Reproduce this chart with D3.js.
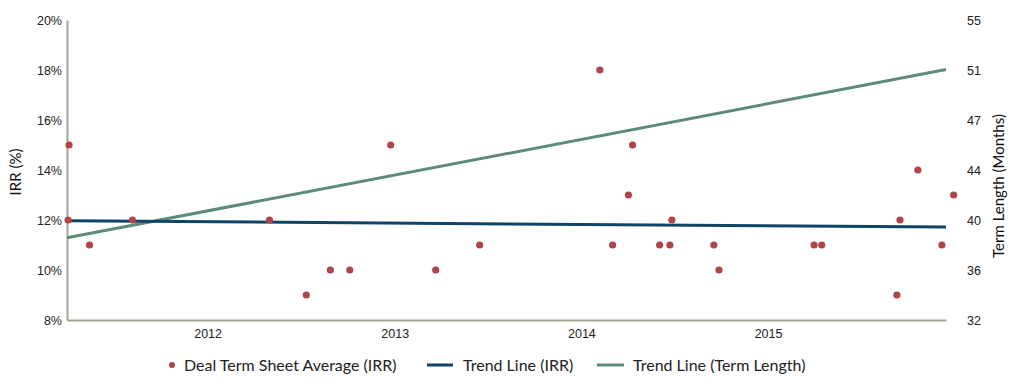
<!DOCTYPE html>
<html>
<head>
<meta charset="utf-8">
<script src="https://cdn.jsdelivr.net/npm/d3@7"></script>
<style>
  body { margin: 0; background: #fff; }
  svg { display: block; font-family: Lato, "Open Sans", sans-serif; }
  .tick-label { font-size: 12.5px; fill: #222; }
  .axis-title { font-size: 15px; fill: #111; }
  .legend-label { font-size: 16px; fill: #222; }
</style>
</head>
<body>
<svg width="1024" height="384"></svg>
<script>
// deal dates and IRR values (%)
const dealDates = [
    "2011-04-05", "2011-04-03", "2011-05-15", "2011-08-07", "2012-05-01", "2012-07-12",
    "2012-08-28", "2012-10-05", "2012-12-24", "2013-03-22", "2013-06-16", "2014-02-06",
    "2014-03-03", "2014-04-03", "2014-04-11", "2014-06-03", "2014-06-23", "2014-06-27",
    "2014-09-17", "2014-09-27", "2015-04-01", "2015-04-16", "2015-09-10", "2015-09-16",
    "2015-10-21", "2015-12-07", "2015-12-30"
];
const dealIrr = [15, 12, 11, 12, 12, 9, 10, 10, 15, 10, 11, 18, 11, 13, 15, 11, 11, 12, 11, 10, 11, 11, 9, 12, 14, 11, 13];

const trendDates = ["2011-04-01", "2015-12-15"];
const trendIrr = [11.97, 11.72];
const trendTermLength = [38.3, 51.2];

const irrTicks = [8, 10, 12, 14, 16, 18, 20];
const yearTicks = ["2012", "2013", "2014", "2015"];

const legendItems = ["Deal Term Sheet Average (IRR)", "Trend Line (IRR)", "Trend Line (Term Length)"];

const dotColor = "#b04448";
const irrLineColor = "#0f4468";
const termLineColor = "#5e8b78";
const axisColor = "#a6a696";

const parseDate = d3.timeParse("%Y-%m-%d");

const svg = d3.select("svg");
const margin = {left: 67, right: 78, top: 20, bottom: 64};
const width = 1024 - margin.left - margin.right;
const height = 384 - margin.top - margin.bottom;

const x = d3.scaleTime()
    .domain([parseDate("2011-04-01"), parseDate("2015-12-15")])
    .range([margin.left, margin.left + width]);

const yIrr = d3.scaleLinear().domain([8, 20]).range([margin.top + height, margin.top]);
const yTerm = d3.scaleLinear().domain([32, 55]).range([margin.top + height, margin.top]);

// left axis
const leftAxis = svg.append("g")
    .attr("transform", `translate(${margin.left},0)`)
    .call(d3.axisLeft(yIrr).tickValues(irrTicks).tickSize(0).tickPadding(5).tickFormat(d => d + "%"));
leftAxis.select(".domain").attr("stroke", axisColor).attr("stroke-width", 2);
leftAxis.selectAll("text").attr("class", "tick-label").attr("font-family", null).attr("font-size", null);

// right axis - 7 evenly spaced ticks, rounded labels
const termTicks = d3.range(7).map(i => 32 + i * (55 - 32) / 6);
const rightAxis = svg.append("g")
    .attr("transform", `translate(${margin.left + width},0)`)
    .call(d3.axisRight(yTerm).tickValues(termTicks).tickSize(0).tickPadding(21).tickFormat(d => Math.round(d)));
rightAxis.select(".domain").remove();
rightAxis.selectAll("text").attr("class", "tick-label").attr("font-family", null).attr("font-size", null);

// bottom axis
const bottomAxis = svg.append("g")
    .attr("transform", `translate(0,${margin.top + height})`)
    .call(d3.axisBottom(x).tickValues(yearTicks.map(y => parseDate(y + "-01-01"))).tickSize(0).tickPadding(9).tickFormat(d3.timeFormat("%Y")));
bottomAxis.select(".domain").attr("stroke", axisColor).attr("stroke-width", 2);
bottomAxis.selectAll("text").attr("class", "tick-label").attr("font-family", null).attr("font-size", null);

// axis titles
svg.append("text")
    .attr("class", "axis-title")
    .attr("transform", `translate(21,${margin.top + height / 2 + 2}) rotate(-90)`)
    .attr("text-anchor", "middle")
    .text("IRR (%)");

svg.append("text")
    .attr("class", "axis-title")
    .attr("transform", `translate(1004,186) rotate(-90)`)
    .attr("text-anchor", "middle")
    .text("Term Length (Months)");

// trend lines
const trendPoints = trendDates.map((d, i) => ({date: parseDate(d), irr: trendIrr[i], term: trendTermLength[i]}));

svg.append("path")
    .datum(trendPoints)
    .attr("fill", "none")
    .attr("stroke", termLineColor)
    .attr("stroke-width", 3)
    .attr("d", d3.line().x(d => x(d.date)).y(d => yTerm(d.term)));

svg.append("path")
    .datum(trendPoints)
    .attr("fill", "none")
    .attr("stroke", irrLineColor)
    .attr("stroke-width", 3)
    .attr("d", d3.line().x(d => x(d.date)).y(d => yIrr(d.irr)));

// deal points
svg.append("g")
    .selectAll("circle")
    .data(dealDates.map((d, i) => ({date: parseDate(d), irr: dealIrr[i]})))
    .enter().append("circle")
    .attr("cx", d => x(d.date))
    .attr("cy", d => yIrr(d.irr))
    .attr("r", 3.6)
    .attr("fill", dotColor);

// legend
const legend = svg.append("g").attr("transform", "translate(0,365)");
const legendX = [172, 427, 597];

legend.append("circle").attr("cx", legendX[0]).attr("cy", 0).attr("r", 3).attr("fill", dotColor);
legend.append("line").attr("x1", legendX[1]).attr("x2", legendX[1] + 26).attr("y1", 0).attr("y2", 0)
    .attr("stroke", irrLineColor).attr("stroke-width", 3);
legend.append("line").attr("x1", legendX[2]).attr("x2", legendX[2] + 27).attr("y1", 0).attr("y2", 0)
    .attr("stroke", termLineColor).attr("stroke-width", 3);

const legendTextX = [184, 463, 633];
legend.selectAll("text.legend-label")
    .data(legendItems)
    .enter().append("text")
    .attr("class", "legend-label")
    .attr("x", (d, i) => legendTextX[i])
    .attr("y", 0)
    .attr("dy", "0.35em")
    .text(d => d);
</script>
</body>
</html>
